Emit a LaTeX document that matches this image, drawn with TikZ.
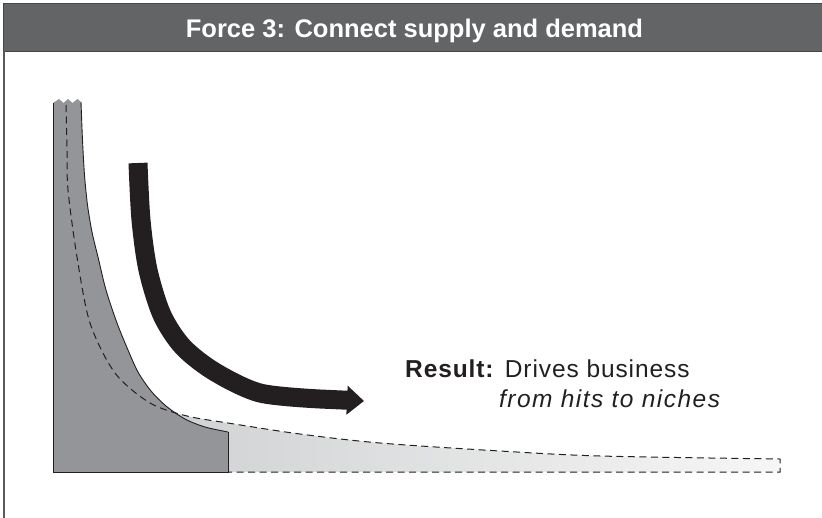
\documentclass[tikz,border=0pt]{standalone}
\usepackage{fontspec}
\setmainfont{Liberation Sans}
\newfontfamily\labelfont[LetterSpace=3.7]{Liberation Sans}
\newfontfamily\nichefont[LetterSpace=6]{Liberation Sans}
\usetikzlibrary{arrows.meta}

\definecolor{headgray}{HTML}{636466}
\definecolor{hitgray}{HTML}{939598}
\definecolor{tailgray}{HTML}{CACCCD}
\definecolor{tailwhite}{HTML}{F6F6F6}
\definecolor{inkblack}{HTML}{231F20}
\definecolor{rulegray}{HTML}{58595B}

\begin{document}
\begin{tikzpicture}[x=1pt,y=-1pt,
  tail line/.style={dash pattern=on 7pt off 4.5pt,line width=1pt,draw=inkblack},
  hit line/.style={line width=0.9pt,draw=inkblack},
  label text/.style={anchor=base west,inner sep=0pt,text=inkblack}]

  \useasboundingbox (0,0) rectangle (822,517);

  % header bar and frame
  \draw[fill=headgray,draw=headgray!70!black,line width=1pt] (3,3) rectangle (826,51);
  \node[anchor=base,text=white,font=\fontsize{25.5}{30}\selectfont\bfseries] (title) at (414.5,37) {Force 3: Connect supply and demand};
  \draw[rulegray,line width=1.5pt] (4,51) -- (4,520);

  % long tail (light area under the dashed curve)
  \shade[left color=tailgray,right color=tailwhite]
    plot[smooth] coordinates {(66,105) (67,150) (68,190) (77,257) (90,323) (115,373) (150,403) (187,416) (228,423) (300,434) (380,443) (500,451) (600,456) (780,459)}
    -- (780,472) -- (66,472) -- cycle;

  % hits (dark area)
  \fill[hitgray] (53,472) -- (53,103) -- (59,99) -- (63.5,103) -- (68,99) -- (72.5,103) -- (77.5,99) -- (81,102)
    -- plot[smooth] coordinates {(81,102) (82.5,140) (84.5,175) (87.5,205) (92,232) (98,257) (106,290) (117,323) (128,350) (138,372) (151,391) (166,406) (185,419) (205,427) (228,432)}
    -- (228,472) -- cycle;
  \draw[hit line] (53,103) -- (53,472) -- (228,472) -- (228,432);
  \draw[hit line] plot[smooth] coordinates {(81,102) (82.5,140) (84.5,175) (87.5,205) (92,232) (98,257) (106,290) (117,323) (128,350) (138,372) (151,391) (166,406) (185,419) (205,427) (228,432)};

  % dashed curve and tail outline
  \draw[tail line] plot[smooth] coordinates {(66,105) (67,150) (68,190) (77,257) (90,323) (115,373) (150,403) (187,416) (228,423) (300,434) (380,443) (500,451) (600,456) (780,459)}
    -- (780,472) -- (228,472);

  % arrow
  \draw[inkblack,line width=19pt,-{Triangle[length=17pt,width=28pt]}]
    plot[smooth] coordinates {(138,163) (141,220) (148,270) (162,315) (183,347) (215,372) (260,393) (320,399)} -- (364,401);

  % labels
  \node[label text,font=\labelfont\fontsize{24.5}{30}\selectfont] (result) at (405,377) {\textbf{Result:} Drives business};
  \node[label text,font=\nichefont\fontsize{24.5}{30}\selectfont\itshape] (niches) at (499,407) {from hits to niches};
\end{tikzpicture}
\end{document}
